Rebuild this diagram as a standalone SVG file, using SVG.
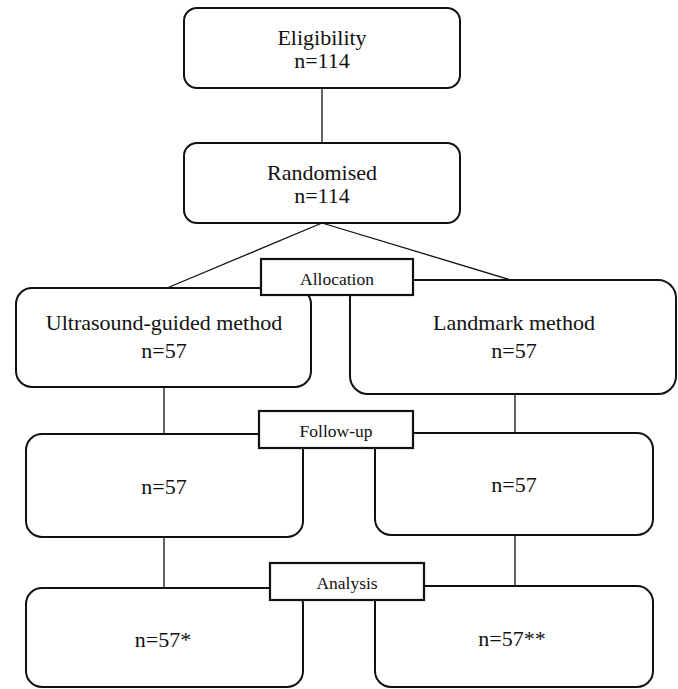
<svg xmlns="http://www.w3.org/2000/svg" width="678" height="689" viewBox="0 0 678 689">
<style>
.box{fill:#fff;stroke:#111;stroke-width:2}
.lab{fill:#fff;stroke:#111;stroke-width:2.2}
.ln{stroke:#111;stroke-width:1.3;fill:none}
.t{font-family:"Liberation Serif","Times New Roman",serif;font-size:22px;fill:#111;text-anchor:middle}
.s{font-family:"Liberation Serif","Times New Roman",serif;font-size:17.5px;fill:#111;text-anchor:middle}
</style>
<rect width="678" height="689" fill="#fff"/>
<g id="connectors">
<line class="ln" x1="322" y1="88" x2="322" y2="143"/>
<line class="ln" x1="322" y1="223" x2="167" y2="288"/>
<line class="ln" x1="322" y1="223" x2="511" y2="280"/>
<line class="ln" x1="164" y1="387" x2="164" y2="434"/>
<line class="ln" x1="515" y1="394" x2="515" y2="433"/>
<line class="ln" x1="164" y1="537" x2="164" y2="588"/>
<line class="ln" x1="515" y1="535" x2="515" y2="586"/>
</g>
<g id="eligibility">
<rect class="box" x="184" y="8" width="276" height="80" rx="13"/>
<text class="t" x="322" y="45">Eligibility</text>
<text class="t" x="322" y="68">n=114</text>
</g>
<g id="randomised">
<rect class="box" x="184" y="143" width="276" height="80" rx="13"/>
<text class="t" x="322" y="180">Randomised</text>
<text class="t" x="322" y="203">n=114</text>
</g>
<g id="ultrasound">
<rect class="box" x="16" y="288" width="295" height="99" rx="16"/>
<text class="t" x="164" y="330">Ultrasound-guided method</text>
<text class="t" x="164" y="358">n=57</text>
</g>
<g id="landmark">
<rect class="box" x="350" y="280" width="326" height="114" rx="18"/>
<text class="t" x="514" y="330">Landmark method</text>
<text class="t" x="514" y="358">n=57</text>
</g>
<g id="followup-left">
<rect class="box" x="26" y="434" width="277" height="103" rx="16"/>
<text class="t" x="164" y="494">n=57</text>
</g>
<g id="followup-right">
<rect class="box" x="375" y="433" width="278" height="102" rx="16"/>
<text class="t" x="514" y="492">n=57</text>
</g>
<g id="analysis-left">
<rect class="box" x="26" y="588" width="277" height="99" rx="16"/>
<text class="t" x="163" y="647">n=57*</text>
</g>
<g id="analysis-right">
<rect class="box" x="375" y="586" width="278" height="101" rx="16"/>
<text class="t" x="512" y="646">n=57**</text>
</g>
<g id="allocation">
<rect class="lab" x="261" y="259" width="152" height="36"/>
<text class="s" x="337" y="285">Allocation</text>
</g>
<g id="follow-up">
<rect class="lab" x="259" y="411" width="154" height="37"/>
<text class="s" x="336" y="437">Follow-up</text>
</g>
<g id="analysis">
<rect class="lab" x="270" y="563" width="154" height="37"/>
<text class="s" x="347" y="589">Analysis</text>
</g>
</svg>
